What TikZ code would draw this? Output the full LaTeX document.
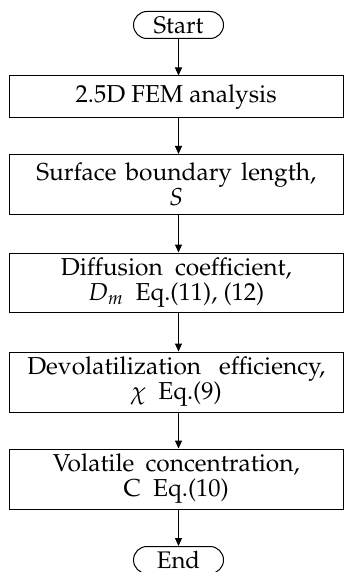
\documentclass[tikz,border=0pt]{standalone}
\usepackage[T1]{fontenc}
\usepackage{mathpazo}
\usetikzlibrary{arrows.meta}
\newcommand{\jline}[2]{\makebox[#1][s]{#2}}
\newcommand{\wg}{\hspace{0.5em}}
\tikzset{
  proc/.style={draw, line width=1pt, minimum width=334.5pt, align=center, inner sep=0pt, font=\fontsize{24.5}{25}\selectfont},
  term/.style={draw, line width=1pt, rounded corners=13.5pt, minimum width=90pt, minimum height=27pt, inner sep=0pt, font=\fontsize{24}{25}\selectfont},
  arr/.style={line width=1pt, -{Triangle[length=8pt,width=7pt]}}
}
\begin{document}
\begin{tikzpicture}[x=1pt,y=-1pt]
\useasboundingbox (0,0) rectangle (344,572);
\node[term] (start) at (178.5,25) {Start};
\node[proc, minimum height=42pt] (b1) at (176.25,97) {2.5D FEM analysis};
\node[proc, minimum height=60pt] (b2) at (176.25,184.5) {\jline{280pt}{Surface boundary length,}\\ $S$};
\node[proc, minimum height=59pt] (b3) at (176.25,282.5) {Diffusion\wg coefficient,\\ $D_m$\wg Eq.(11), (12)};
\node[proc, minimum height=60pt] (b4) at (176.25,382) {\jline{298pt}{Devolatilization efficiency,}\\ $\chi$\wg Eq.(9)};
\node[proc, minimum height=60pt] (b5) at (176.25,479) {\jline{247pt}{Volatile concentration,}\\ C\wg Eq.(10)};
\node[term] (end) at (178.5,560) {End};
\draw[arr] (start.south) -- (start.south |- b1.north);
\draw[arr] (b1.south -| start) -- (b2.north -| start);
\draw[arr] (b2.south -| start) -- (b3.north -| start);
\draw[arr] (b3.south -| start) -- (b4.north -| start);
\draw[arr] (b4.south -| start) -- (b5.north -| start);
\draw[arr] (b5.south -| start) -- (end.north);
\end{tikzpicture}
\end{document}
